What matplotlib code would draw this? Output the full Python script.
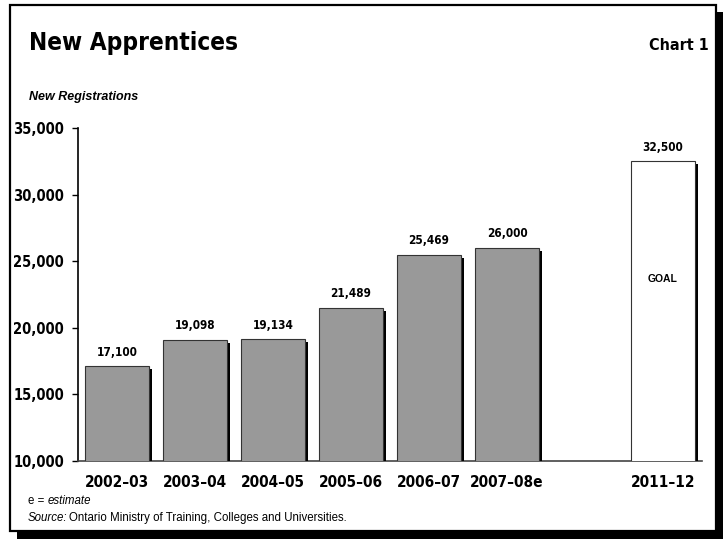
import matplotlib
matplotlib.use("Agg")
import matplotlib.pyplot as plt
import matplotlib.patheffects as pe
from matplotlib.patches import Rectangle
from matplotlib.ticker import FuncFormatter

# new apprentices, registrations per year plus the 2011-12 goal
years = ['2002–03', '2003–04', '2004–05', '2005–06', '2006–07', '2007–08e']
registrations = [17100, 19098, 19134, 21489, 25469, 26000]
goal_year = '2011–12'
goal_value = 32500
y_ticks = [10000, 15000, 20000, 25000, 30000, 35000]

narrow = dict(family='DejaVu Sans', stretch='condensed', fontweight='bold')
plain = ['Liberation Sans', 'DejaVu Sans']

W, H = 723, 539
fig = plt.figure(figsize=(W / 100, H / 100), dpi=100)

def px(x, y):
    # pixel (from top-left) -> figure fraction
    return x / W, 1 - y / H

# framed box with a black drop shadow
sx, sy = px(17, 539)
fig.patches.append(Rectangle((sx, sy), (723 - 17) / W, (539 - 12) / H,
                             transform=fig.transFigure, facecolor='black',
                             edgecolor='none', zorder=-3))
fx, fy = px(10, 531)
fig.patches.append(Rectangle((fx, fy), (716 - 10) / W, (531 - 5) / H,
                             transform=fig.transFigure, facecolor='white',
                             edgecolor='black', linewidth=1.6, zorder=-2))

l, b = px(78, 461)
r, t = px(702, 128)
ax = fig.add_axes([l, b, r - l, t - b])
ax.set_facecolor('none')

shadow = [pe.SimplePatchShadow(offset=(2.0, -2.0), shadow_rgbFace='black', alpha=1.0),
          pe.Normal()]

xs = list(range(len(years)))
bars = ax.bar(xs, registrations, width=0.83, color='#999999',
              edgecolor='#333333', linewidth=0.8, zorder=3)
goal_x = len(years) + 1
gbar = ax.bar([goal_x], [goal_value], width=0.83, color='white',
              edgecolor='#333333', linewidth=0.8, zorder=3)
for p in list(bars) + list(gbar):
    p.set_path_effects(shadow)

fmt = lambda v: f'{v:,.0f}'
ax.bar_label(bars, labels=[fmt(v) for v in registrations], padding=5.5,
             fontsize=8.5, **narrow)
ax.bar_label(gbar, labels=[fmt(goal_value)], padding=5.5, fontsize=8.5, **narrow)
ax.text(goal_x, 23700, 'GOAL', ha='center', va='center', fontsize=7.5,
        fontweight='bold', family=plain)

ax.set_ylim(10000, 35000)
ax.set_xlim(-0.5, len(years) + 1.5)
ax.set_yticks(y_ticks)
ax.yaxis.set_major_formatter(FuncFormatter(lambda v, _: f'{v:,.0f}'))
ax.set_xticks(xs + [goal_x])
ax.set_xticklabels(years + [goal_year])
ax.tick_params(axis='x', length=0, pad=10)
ax.tick_params(axis='y', length=4, width=1, pad=6)
for lab in ax.get_xticklabels():
    lab.set_fontsize(11)
    lab.set_fontweight('bold')
    lab.set_family('DejaVu Sans')
    lab.set_fontstretch('condensed')
for lab in ax.get_yticklabels():
    lab.set_fontsize(10.5)
    lab.set_fontweight('bold')
    lab.set_family('DejaVu Sans')
    lab.set_fontstretch('condensed')

for s in ['top', 'right']:
    ax.spines[s].set_visible(False)
ax.spines['left'].set_linewidth(1.2)
ax.spines['bottom'].set_linewidth(1.2)
ax.spines['bottom'].set_color('#444444')

fig.text(*px(29, 43), 'New Apprentices', fontsize=17.5, va='center', ha='left', **narrow)
fig.text(*px(709, 45), 'Chart 1', fontsize=11.5, va='center', ha='right', **narrow)
fig.text(*px(29, 97), 'New Registrations', fontsize=9, fontweight='bold',
         style='italic', family=plain, va='center', ha='left')
fig.text(*px(28, 501), 'e = ', fontsize=8.3, family=plain, va='center', ha='left')
fig.text(*px(48, 501), 'estimate', fontsize=8.3, style='italic', family=plain,
         va='center', ha='left')
fig.text(*px(28, 518), 'Source:', fontsize=8.3, style='italic', family=plain,
         va='center', ha='left')
fig.text(*px(69, 518), 'Ontario Ministry of Training, Colleges and Universities.',
         fontsize=8.3, family=plain, va='center', ha='left')

fig.savefig('out.png', dpi=100)
